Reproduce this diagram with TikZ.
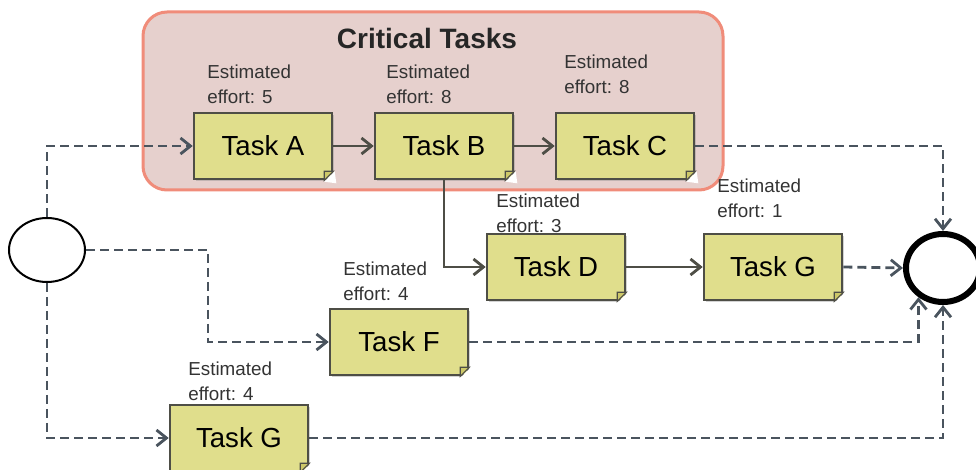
\documentclass[tikz,border=0pt]{standalone}
\usepackage{fontspec}
\setmainfont{Liberation Sans}
\usetikzlibrary{arrows.meta,shadows,shapes.geometric}
\definecolor{taskfill}{RGB}{224,222,140}
\definecolor{taskline}{RGB}{78,78,70}
\definecolor{flowline}{RGB}{74,84,94}
\definecolor{critfill}{RGB}{230,208,205}
\definecolor{critline}{RGB}{240,140,122}
\definecolor{foldfill}{RGB}{205,200,105}
\begin{document}
\begin{tikzpicture}[x=0.5pt,y=-0.5pt,
        task/.style={draw=taskline,line width=1.3pt,fill=taskfill,minimum width=69pt,minimum height=33pt,inner sep=0pt,
            font=\fontsize{13.8}{16}\selectfont,drop shadow={shadow xshift=1.2pt,shadow yshift=-1.2pt,opacity=0.35}},
        effort/.style={anchor=north west,align=left,inner sep=0pt,font=\fontsize{9.4}{12.5}\selectfont,text=black!80},
        solidflow/.style={draw=taskline,line width=1.4pt,-{Straight Barb[length=5pt,width=8pt]}},
        dashflow/.style={draw=flowline,line width=1.4pt,dash pattern=on 4.5pt off 2.5pt,-{Straight Barb[length=5pt,width=8pt]}},
        event/.style={ellipse,draw=black,fill=white,inner sep=0pt},
        fold/.style={fill=foldfill,draw=taskline,line width=0.6pt}]
                \clip (0,0) rectangle (976,470);
                \node [draw=critline,fill=critfill,line width=1.5pt,rounded corners=12pt,minimum width=290pt,minimum height=89pt] (crit) at (433,101) {};
                \node [font=\fontsize{14}{16}\selectfont\bfseries,text=black!85] (title) at (427,38) {Critical Tasks};
                \node [task] (ta) at (263,146) {Task A};
                \node [task] (tb) at (444,146) {Task B};
                \node [task] (tc) at (625,146) {Task C};
                \node [task] (td) at (556,267) {Task D};
                \node [task] (tg) at (773,267) {Task G};
                \node [task] (tf) at (399,342) {Task F};
                \node [task] (tgb) at (239,438) {Task G};
                \node [effort] (ea) at (207,64) {Estimated\\effort: 5};
                \node [effort] (eb) at (386,64) {Estimated\\effort: 8};
                \node [effort] (ec) at (564,54) {Estimated\\effort: 8};
                \node [effort] (ed) at (496,193) {Estimated\\effort: 3};
                \node [effort] (eg) at (717,178) {Estimated\\effort: 1};
                \node [effort] (ef) at (343,261) {Estimated\\effort: 4};
                \node [effort] (egb) at (188,361) {Estimated\\effort: 4};
                \node [event,line width=1pt,minimum width=38pt,minimum height=32pt] (start) at (47,250) {};
                \node [event,line width=3pt,minimum width=37pt,minimum height=34pt] (end) at (943,268) {};
                \coordinate (split) at (208,250);
                \draw [dashflow] (start.north) |- (ta.west);
                \draw [dashflow] (start.east) -- (split) |- (tf.west);
                \draw [dashflow] (start.south) |- (tgb.west);
                \draw [solidflow] (ta.east) -- (tb.west);
                \draw [solidflow] (tb.east) -- (tc.west);
                \draw [solidflow] (tb.south) |- (td.west);
                \draw [solidflow] (td.east) -- (tg.west);
                \draw [dashflow] (tg.east) -- (end.west);
                \draw [dashflow] (tc.east) -| (end.north);
                \draw [dashflow] (tf.east) -| (end.230);
                \draw [dashflow] (tgb.east) -| (end.south);
                \foreach \n in {ta,tb,tc,td,tg,tf,tgb}
                {
                    \fill [white] ([xshift=-4.5pt,yshift=-0.7pt]\n.south east) -- ([xshift=1.5pt,yshift=-1.5pt]\n.south east) -- ([xshift=0.7pt,yshift=4.5pt]\n.south east) -- cycle;
                    \draw [fold] ([xshift=-4.5pt]\n.south east) -- ([yshift=4.5pt]\n.south east) -- ([xshift=-4.5pt,yshift=4.5pt]\n.south east) -- cycle;
                }
\end{tikzpicture}
\end{document}
